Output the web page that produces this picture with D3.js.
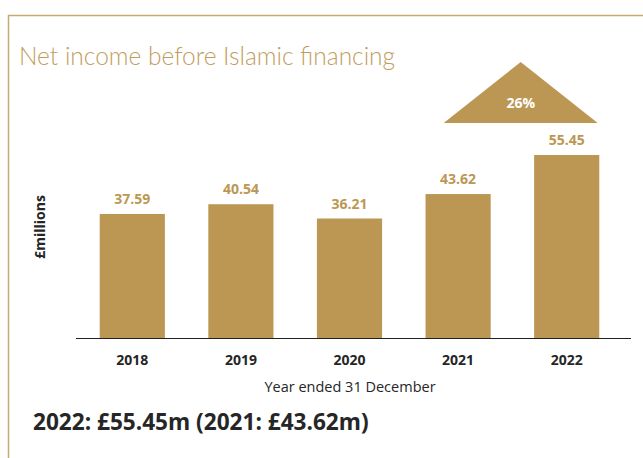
<!DOCTYPE html>
<html>
<head>
<meta charset="utf-8">
<script src="https://cdn.jsdelivr.net/npm/d3@7"></script>
<style>
  html, body { margin: 0; padding: 0; background: #fff; }
  svg { display: block; }
</style>
</head>
<body>
<svg id="chart" width="643" height="458"></svg>
<script>
// Net income before Islamic financing, £ millions
const years = ["2018", "2019", "2020", "2021", "2022"];
const values = [37.59, 40.54, 36.21, 43.62, 55.45];
const growthLabel = "26%";
const titleText = "Net income before Islamic financing";
const yAxisLabel = "£millions";
const xAxisLabel = "Year ended 31 December";
const summaryText = "2022: £55.45m (2021: £43.62m)";

const gold = "#bc9754";
const titleGold = "#bf9d5e";
const dark = "#262626";

const svg = d3.select("#chart");

// frame (top and left rule)
svg.append("path")
  .attr("d", "M8.5,458 V15.5 H643")
  .attr("fill", "none")
  .attr("stroke", "#c8ab72")
  .attr("stroke-width", 1.5);

svg.append("text")
  .attr("x", 19).attr("y", 65)
  .attr("font-family", "Lato")
  .attr("font-weight", 300)
  .attr("font-size", 24.5)
  .attr("fill", titleGold)
  .text(titleText);

const x = d3.scaleBand()
  .domain(years)
  .range([78, 621])
  .paddingInner(0.4)
  .paddingOuter(0.2);

const y = d3.scaleLinear()
  .domain([0, 60])
  .range([338, 140]);

// bars
svg.append("g").selectAll("rect")
  .data(values)
  .join("rect")
  .attr("x", (d, i) => x(years[i]))
  .attr("y", d => y(d))
  .attr("width", x.bandwidth())
  .attr("height", d => y(0) - y(d))
  .attr("fill", gold);

// value labels
svg.append("g").selectAll("text")
  .data(values)
  .join("text")
  .attr("x", (d, i) => x(years[i]) + x.bandwidth() / 2)
  .attr("y", d => y(d) - 10)
  .attr("text-anchor", "middle")
  .attr("font-family", "Open Sans")
  .attr("font-weight", 700)
  .attr("font-size", 14)
  .attr("fill", gold)
  .text(d => d.toFixed(2));

// x axis
const xAxis = svg.append("g")
  .attr("transform", `translate(0,${y(0)})`)
  .call(d3.axisBottom(x).tickSize(0).tickPadding(17));
xAxis.select(".domain").remove();
xAxis.selectAll("text")
  .attr("font-family", "Open Sans")
  .attr("font-weight", 700)
  .attr("font-size", 14)
  .attr("fill", dark);

svg.append("line")
  .attr("x1", 76).attr("x2", 631)
  .attr("y1", y(0) + 0.5).attr("y2", y(0) + 0.5)
  .attr("stroke", "#222")
  .attr("stroke-width", 1.2);

svg.append("text")
  .attr("x", 350).attr("y", 392)
  .attr("text-anchor", "middle")
  .attr("font-family", "Open Sans")
  .attr("font-size", 14.5)
  .attr("fill", dark)
  .text(xAxisLabel);

svg.append("text")
  .attr("transform", "translate(45,227) rotate(-90)")
  .attr("text-anchor", "middle")
  .attr("font-family", "Open Sans")
  .attr("font-weight", 700)
  .attr("font-size", 14)
  .attr("fill", dark)
  .text(yAxisLabel);

// growth marker above the latest bar
const last = years[years.length - 1];
const cx = x(last) + x.bandwidth() / 2 - 46;
const triBase = y(values[values.length - 1]) - 32;
svg.append("path")
  .attr("d", `M${cx},${triBase - 61} L${cx + 77},${triBase} L${cx - 77},${triBase} Z`)
  .attr("fill", gold);
svg.append("text")
  .attr("x", cx).attr("y", triBase - 15)
  .attr("text-anchor", "middle")
  .attr("font-family", "Open Sans")
  .attr("font-weight", 700)
  .attr("font-size", 14)
  .attr("fill", "#fff")
  .text(growthLabel);

svg.append("text")
  .attr("x", 33).attr("y", 430)
  .attr("font-family", "Open Sans")
  .attr("font-weight", 700)
  .attr("font-size", 22.6)
  .attr("fill", dark)
  .text(summaryText);
</script>
</body>
</html>
